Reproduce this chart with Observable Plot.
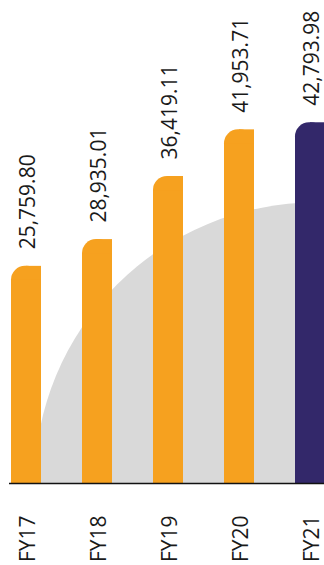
<!DOCTYPE html>
<html><head><meta charset="utf-8">
<script src="https://cdn.jsdelivr.net/npm/d3@7"></script>
<script src="https://cdn.jsdelivr.net/npm/@observablehq/plot@0.6"></script>
<style>body{margin:0;background:#fff;overflow:hidden} svg{display:block}</style>
</head><body><div id="chart"></div>
<script>
const years = ["FY17", "FY18", "FY19", "FY20", "FY21"];
const values = [25759.80, 28935.01, 36419.11, 41953.71, 42793.98];
const labels = ["25,759.80", "28,935.01", "36,419.11", "41,953.71", "42,793.98"];
const colors = ["#F6A11F", "#F6A11F", "#F6A11F", "#F6A11F", "#33286A"];
const data = years.map((y, i) => ({year: y, value: values[i], label: labels[i], color: colors[i]}));
const font = "'Open Sans', sans-serif";
const chart = Plot.plot({
  width: 324, height: 565, marginTop: 0, marginLeft: 9, marginRight: 0, marginBottom: 82,
  x: {domain: years, range: [9, 327], paddingInner: 0.583, paddingOuter: 0, axis: null},
  y: {domain: [0, 57300], axis: null},
  color: {type: "identity"},
  style: {fontFamily: font, background: "#fff"},
  marks: [
    Plot.dot([years[4]], {x: d => d, y: () => 0, r: 281, dx: 5, fill: "#D9D9D9", stroke: null, clip: true}),
    Plot.barY(data, {x: "year", y: "value", fill: "color", rx: 14}),
    Plot.barY(data, {x: "year", y: "value", fill: "color", insetLeft: 15}),
    Plot.barY(data, {x: "year", y: "value", fill: "color", insetTop: 14}),
    Plot.ruleY([0], {stroke: "#111", strokeWidth: 1.5}),
    Plot.text(data, {x: "year", y: "value", text: "label", rotate: -90, textAnchor: "start", dy: -17, dx: 2, fontSize: 21, fill: "#1a1a1a"}),
    Plot.text(data, {x: "year", y: () => 0, text: "year", rotate: -90, textAnchor: "end", dy: 32, dx: 2, fontSize: 21, fill: "#1a1a1a"})
  ]
});
document.getElementById("chart").appendChild(chart);
</script>
</body></html>
